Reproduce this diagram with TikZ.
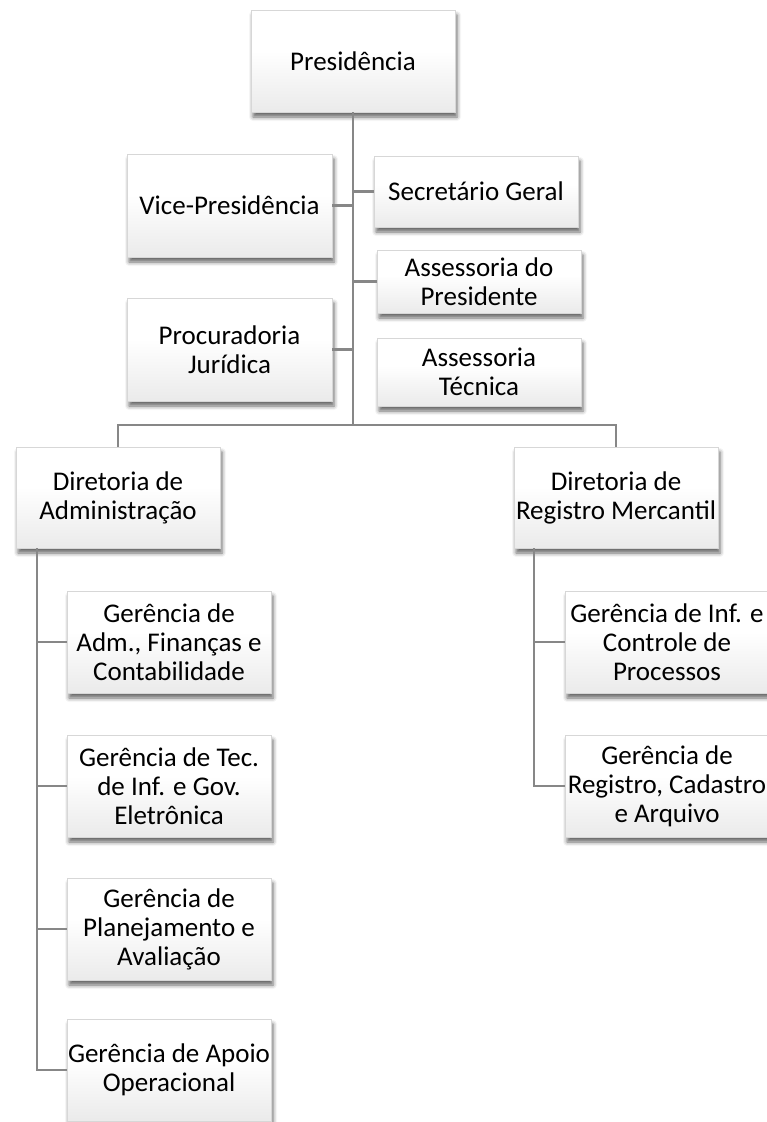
\documentclass[tikz,border=0pt]{standalone}
\usepackage{fontspec}
\setmainfont{Carlito}
\usetikzlibrary{shadows.blur}
\definecolor{linegray}{RGB}{135,135,135}
\definecolor{boxbot}{RGB}{220,220,220}
\definecolor{boxedge}{RGB}{215,215,215}
\pgfdeclareverticalshading{boxshade}{100bp}{color(0bp)=(boxbot); color(12bp)=(boxbot!85!white); color(55bp)=(white); color(100bp)=(white)}
\begin{document}
\begin{tikzpicture}[x=1pt,y=-1pt,
  orgbox/.style={draw=boxedge, line width=0.5pt, shading=boxshade, align=center,
    inner sep=0pt, minimum width=204pt, minimum height=102pt,
    font=\fontsize{27}{29}\selectfont,
    blur shadow={shadow xshift=2pt, shadow yshift=-5pt, shadow blur radius=4pt, shadow opacity=60}},
  conn/.style={draw=linegray, line width=2.6pt}]
\useasboundingbox (0,0) rectangle (767,1122);
\begin{scope}
\clip (0,0) rectangle (767,1122);
\coordinate (trunkend) at (353,425);
\coordinate (barL) at (118,425);
\coordinate (barR) at (616,425);
\coordinate (lvtop) at (37,548);
\coordinate (rvtop) at (534,548);

\node[orgbox] (pres) at (353,61) {Presidência};
\node[orgbox, minimum width=205pt, minimum height=103pt] (vice) at (229.5,205.5) {Vice-Presidência};
\node[orgbox, minimum height=71pt] (sec) at (476,191.5) {Secretário Geral};
\node[orgbox, minimum height=63pt] (assp) at (479,281.5) {Assessoria do\\Presidente};
\node[orgbox, minimum width=205pt, minimum height=103pt] (proc) at (229.5,349.5) {Procuradoria\\Jurídica};
\node[orgbox, minimum height=68pt] (asst) at (479,372) {Assessoria\\Técnica};
\node[orgbox, minimum height=101pt] (dadm) at (118,497.5) {Diretoria de\\Administração};
\node[orgbox, minimum height=101pt] (dreg) at (616,497.5) {Diretoria de\\Registro Mercantil};
\node[orgbox] (g1) at (169,642) {Gerência de\\Adm., Finanças e\\Contabilidade};
\node[orgbox] (g2) at (169,786) {Gerência de Tec.\\de Inf. e Gov.\\Eletrônica};
\node[orgbox] (g3) at (169,929) {Gerência de\\Planejamento e\\Avaliação};
\node[orgbox] (g4) at (169,1070) {Gerência de Apoio\\Operacional};
\node[orgbox] (r1) at (667,642) {Gerência de Inf. e\\Controle de\\Processos};
\node[orgbox] (r2) at (667,786) {Gerência de\\Registro, Cadastro\\e Arquivo};

\begin{scope}[conn]
\draw (pres.south) -- (trunkend);
\draw (vice.east) -- (vice.east -| trunkend);
\draw (sec.west) -- (sec.west -| trunkend);
\draw (assp.west) -- (assp.west -| trunkend);
\draw (proc.east) -- (proc.east -| trunkend);
\draw (dadm.north) -- (barL) -- (barR) -- (dreg.north);
\draw (lvtop) -- (lvtop |- g4.west) -- (g4.west);
\draw (lvtop |- g1.west) -- (g1.west);
\draw (lvtop |- g2.west) -- (g2.west);
\draw (lvtop |- g3.west) -- (g3.west);
\draw (rvtop) -- (rvtop |- r2.west) -- (r2.west);
\draw (rvtop |- r1.west) -- (r1.west);
\end{scope}
\end{scope}
\end{tikzpicture}
\end{document}
